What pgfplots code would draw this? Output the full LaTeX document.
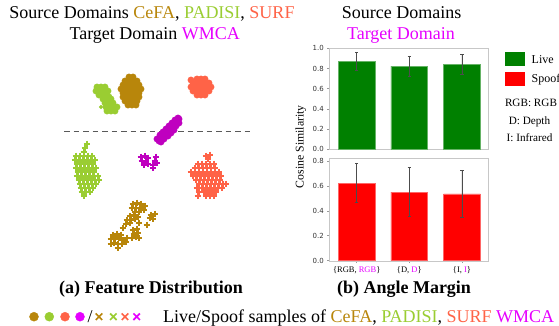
\documentclass[border=0pt]{standalone}
\usepackage{fontspec}
\setmainfont{Liberation Serif}
\newfontfamily\dejavu{DejaVu Sans}
\usepackage{pgfplots}
\pgfplotsset{compat=1.18}
\definecolor{cefa}{HTML}{B8860B}
\definecolor{padisi}{HTML}{9ACD32}
\definecolor{surf}{HTML}{FF6347}
\definecolor{wmca}{HTML}{BF00BF}
\definecolor{wmcat}{HTML}{E600FF}
\definecolor{livegreen}{HTML}{008000}
\definecolor{spoofred}{HTML}{FF0000}
\begin{document}
\begin{tikzpicture}[x=1bp,y=1bp]
\path[use as bounding box] (0,0) rectangle (559,-325);
\def\bigf{\fontsize{18bp}{21bp}\selectfont}
% ---------------- scatter (a) ----------------
\begin{axis}[at={(0bp,-60bp)}, anchor=north west, width=280bp, height=210bp, scale only axis,
  xmin=0, xmax=280, ymin=60, ymax=270, y dir=reverse, hide axis, clip=false]
\pgfplotsset{live/.style={only marks, mark=*, mark size=3.2bp, mark options={draw=#1, fill=#1}},
             spoof/.style={only marks, mark=+, mark size=3.3bp, line width=2.3bp, color=#1}}
% live PADISI
\addplot[live=padisi] coordinates {(97,87)(101,87)(105,87)(96,91)(100,91)(104,91)(108,91)(99,95)(103,95)(107,95)
 (103,99)(107,99)(111,99)(105,103)(109,103)(113,103)(106,107)(110,107)(114,107)(117,107)(107,111)(111,111)(115,111)
 (98,89)(102,93)(106,93)(105,97)(109,97)(107,101)(111,101)(108,105)(112,105)(109,109)(113,109)};
\addplot[only marks, mark=*, mark size=1.8bp, mark options={draw=padisi, fill=padisi}] coordinates {(101,107)};
% live CeFA
\addplot[live=cefa] coordinates {(129,77)(133,77)(125,81)(129,81)(133,81)(137,81)(123,85)(127,85)(131,85)(135,85)(139,85)
 (121,89)(125,89)(129,89)(133,89)(137,89)(141,89)(123,93)(127,93)(131,93)(135,93)(139,93)
 (123,97)(127,97)(131,97)(135,97)(139,97)(125,101)(129,101)(133,101)(137,101)(128,105)(132,105)(136,105)};
% live SURF
\addplot[live=surf] coordinates {(197,79)(201,79)(205,79)(193,83)(197,83)(201,83)(205,83)(209,83)
 (191,87)(195,87)(199,87)(203,87)(207,87)(211,87)(193,91)(197,91)(201,91)(205,91)(209,91)(197,95)(201,95)(205,95)(191,80)};
% live WMCA
\addplot[live=wmca] coordinates {(159,141)(162,138)(165,135)(168,132)(171,129)(174,126)(177,122)(179,119)
 (157,139)(161,142)(160,135)(164,139)(163,132)(168,136)(166,129)(171,133)(169,126)(174,130)(172,123)(176,126)(175,120)(179,123)(178,118)};
% spoof WMCA
\addplot[spoof=wmca] coordinates {(141,157)(145,156)(148,158)(142,161)(146,161)(144,165)(148,164)
 (156,157)(155,161)(153,165)(157,163)(153,168)};
% spoof PADISI
\addplot[spoof=padisi] coordinates {(87,144)(85,148)(84,152)
 (76,156)(80,156)(84,156)(88,156)(92,156)(75,160)(79,160)(83,160)(87,160)(91,160)(95,160)
 (77,164)(81,164)(85,164)(89,164)(93,164)(76,168)(80,168)(84,168)(88,168)(92,168)(96,168)
 (78,172)(82,172)(86,172)(90,172)(94,172)(77,176)(81,176)(85,176)(89,176)(93,176)(98,176)
 (79,180)(83,180)(87,180)(91,180)(95,180)(99,180)(80,184)(84,184)(88,184)(92,184)(96,184)
 (81,188)(85,188)(89,188)(93,188)(82,192)(86,192)(90,192)(84,196)};
% spoof SURF
\addplot[spoof=surf] coordinates {(206,156)(210,155)(208,159)
 (198,164)(202,164)(206,164)(210,164)(214,164)(195,168)(199,168)(203,168)(207,168)(211,168)(215,168)
 (191,172)(195,172)(199,172)(203,172)(207,172)(211,172)(215,172)(219,172)
 (193,176)(197,176)(201,176)(205,176)(209,176)(213,176)(217,176)(221,176)
 (196,180)(200,180)(204,180)(208,180)(212,180)(216,180)(220,180)
 (199,184)(203,184)(207,184)(211,184)(215,184)(219,184)(223,184)(226,184)
 (197,188)(202,188)(206,188)(210,188)(214,188)(218,188)(222,188)
 (199,192)(204,192)(208,192)(212,192)(216,192)(198,196)(206,196)(210,196)(214,196)};
% spoof CeFA
\addplot[spoof=cefa] coordinates {(133,204)(137,203)(141,204)(145,206)(132,208)(136,208)(140,208)(144,210)(135,212)(139,212)
 (130,216)(134,215)(138,217)(127,220)(131,220)(135,219)(126,224)(130,223)(139,223)(123,228)
 (151,215)(155,214)(153,219)(150,218)(147,225)
 (133,230)(137,229)(134,234)(138,233)(132,238)(136,237)(139,238)
 (113,235)(117,234)(121,235)(111,239)(115,239)(119,238)(123,240)(127,238)(114,243)(118,244)(122,244)(126,242)(118,248)(111,244)};
% dashed boundary
\addplot[black!65, line width=1.4bp, dash pattern=on 5.5bp off 4bp] coordinates {(64,131.7)(250,131.7)};
% bottom legend symbols
\addplot[only marks, mark=*, mark size=4.5bp, mark options={draw=cefa, fill=cefa}] coordinates {(34,316.7)};
\addplot[only marks, mark=*, mark size=4.5bp, mark options={draw=padisi, fill=padisi}] coordinates {(49.3,316.7)};
\addplot[only marks, mark=*, mark size=4.5bp, mark options={draw=surf, fill=surf}] coordinates {(65,316.7)};
\addplot[only marks, mark=*, mark size=4.5bp, mark options={draw=wmcat, fill=wmcat}] coordinates {(80,316.7)};
\addplot[only marks, mark=x, mark size=4.6bp, line width=1.7bp, color=cefa] coordinates {(99,316.7)};
\addplot[only marks, mark=x, mark size=4.6bp, line width=1.7bp, color=padisi] coordinates {(113.3,316.7)};
\addplot[only marks, mark=x, mark size=4.6bp, line width=1.7bp, color=surf] coordinates {(125,316.7)};
\addplot[only marks, mark=x, mark size=4.6bp, line width=1.7bp, color=wmcat] coordinates {(136.7,316.7)};
\end{axis}
% ---------------- bars (b) ----------------
\pgfplotsset{barax/.style={anchor=north west, width=159bp, scale only axis, xmin=-0.52, xmax=2.5,
  ybar, bar width=36.7bp, axis line style={black!22}, tick style={black!40, line width=0.5bp},
  major tick length=2bp, tick align=outside, ytick pos=left, xtick pos=bottom,
  tick label style={font=\dejavu\fontsize{7bp}{8bp}\selectfont, text=black!80},
  yticklabel style={/pgf/number format/.cd, fixed, fixed zerofill, precision=1, assume math mode=true}}}
\begin{axis}[barax, at={(329.3bp,-48.3bp)}, height=101bp, ymin=0, ymax=1, ytick={0,0.2,0.4,0.6,0.8,1.0}, xtick=\empty]
\addplot[fill=livegreen, draw=livegreen!60!white, line width=0.4bp,
  error bars/.cd, y dir=both, y explicit, error bar style={black!70, line width=0.6bp},
  error mark options={rotate=90, mark size=1.6bp, black!70, line width=0.6bp}]
  coordinates {(0,0.873) +- (0,0.088) (1,0.823) +- (0,0.102) (2,0.840) +- (0,0.098)};
\end{axis}
\begin{axis}[barax, at={(329.3bp,-158.3bp)}, height=102.4bp, ymin=0, ymax=0.82, ytick={0,0.2,0.4,0.6,0.8},
  xtick={0,1,2}, xticklabels={{\{RGB, \textcolor{wmcat}{RGB}\}},{\{D, \textcolor{wmcat}{D}\}},{\{I, \textcolor{wmcat}{I}\}}},
  xticklabel style={font=\rmfamily\fontsize{8.5bp}{9bp}\selectfont, text=black}]
\addplot[fill=spoofred, draw=spoofred!60!white, line width=0.4bp,
  error bars/.cd, y dir=both, y explicit, error bar style={black!70, line width=0.6bp},
  error mark options={rotate=90, mark size=1.6bp, black!70, line width=0.6bp}]
  coordinates {(0,0.622) +- (0,0.157) (1,0.550) +- (0,0.197) (2,0.535) +- (0,0.190)};
\end{axis}
\node[rotate=90, font=\fontsize{11.8bp}{13bp}\selectfont] at (300.7,-146.7) {Cosine Similarity};
% legend
\fill[livegreen] (505,-51.7) rectangle (525,-66);
\fill[spoofred] (505,-71.7) rectangle (525,-86);
\node[anchor=base west, inner sep=0, font=\fontsize{12bp}{14bp}\selectfont] at (531.5,-63.3) {Live};
\node[anchor=base west, inner sep=0, font=\fontsize{12bp}{14bp}\selectfont] at (531.5,-82.5) {Spoof};
\node[anchor=base, inner sep=0, font=\fontsize{11.2bp}{13bp}\selectfont] at (531,-106) {RGB: RGB};
\node[anchor=base, inner sep=0, font=\fontsize{11.2bp}{13bp}\selectfont] at (529.5,-124) {D: Depth};
\node[anchor=base, inner sep=0, font=\fontsize{11.2bp}{13bp}\selectfont] at (529.5,-141.7) {I: Infrared};
% titles
\node[anchor=base, inner sep=0, font=\bigf] at (152,-18.5) {Source Domains \textcolor{cefa}{CeFA}, \textcolor{padisi}{PADISI}, \textcolor{surf}{SURF}};
\node[anchor=base, inner sep=0, font=\bigf] at (154.7,-39.3) {Target Domain \textcolor{wmcat}{WMCA}};
\node[anchor=base, inner sep=0, font=\bigf] at (401.7,-18.5) {Source Domains};
\node[anchor=base, inner sep=0, font=\bigf, text=wmcat] at (401,-39.3) {Target Domain};
% captions
\node[anchor=base, inner sep=0, font=\bigf\bfseries] at (151,-293.2) {(a) Feature Distribution};
\node[anchor=base, inner sep=0, font=\bigf\bfseries] at (404,-293.2) {(b) Angle Margin};
\node[anchor=base, inner sep=0, font=\bigf] at (90,-322) {/};
\node[anchor=base west, inner sep=0, font=\bigf] at (163,-322.3) {Live/Spoof samples of \textcolor{cefa}{CeFA}, \textcolor{padisi}{PADISI}, \textcolor{surf}{SURF} \textcolor{wmcat}{WMCA}};
\end{tikzpicture}
\end{document}
